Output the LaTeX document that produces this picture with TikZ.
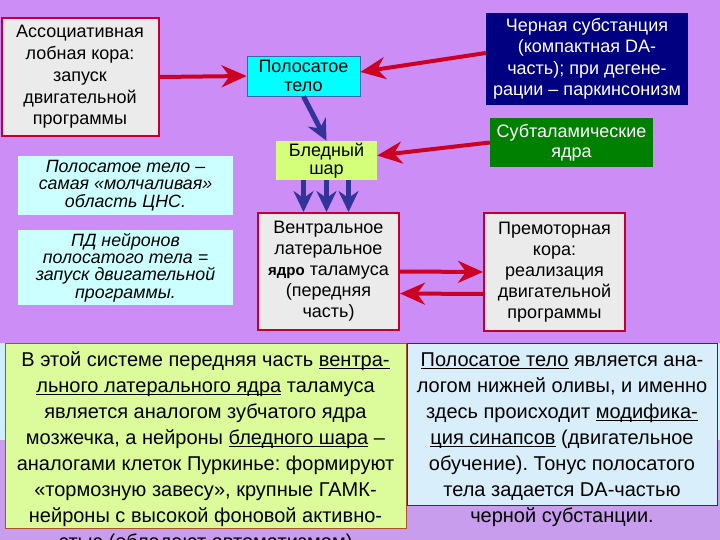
\documentclass[tikz,border=0pt]{standalone}
\usepackage{fontspec}
\setmainfont{Liberation Sans}
\usetikzlibrary{arrows.meta,positioning,calc}
\frenchspacing

\definecolor{slideBg}{HTML}{CC8EF6}
\definecolor{slideBgLow}{HTML}{C99DEE}
\definecolor{bandBlue}{HTML}{CCEEFF}
\definecolor{boxRed}{HTML}{C00030}
\definecolor{arrowRed}{HTML}{CC0022}
\definecolor{arrowBlue}{HTML}{333399}
\definecolor{boxGray}{HTML}{EBEBEB}
\definecolor{striatumCyan}{HTML}{00FFFF}
\definecolor{striatumEdge}{HTML}{3366AA}
\definecolor{nigraBlue}{HTML}{000080}
\definecolor{stnGreen}{HTML}{008000}
\definecolor{pallidumLime}{HTML}{D4FF7A}
\definecolor{noteCyan}{HTML}{CCFFFF}
\definecolor{cmpGreen}{HTML}{DCFC9C}
\definecolor{cmpGreenEdge}{HTML}{A8522D}
\definecolor{cmpBlue}{HTML}{D8EEFA}
\definecolor{cmpBlueEdge}{HTML}{801020}

% underline at a fixed depth, through the descenders
\newcommand{\lined}[1]{\leavevmode\setbox0=\hbox{#1}\copy0\kern-\wd0\rule[-2.6pt]{\wd0}{1.1pt}}

\tikzset{
  slideBox/.style={inner sep=0pt, align=center, font=\fontsize{18}{21.5}\selectfont},
  redBox/.style={slideBox, draw=boxRed, line width=2pt, fill=boxGray},
  noteBox/.style={inner sep=0pt, align=center, fill=noteCyan, minimum width=215pt,
    font=\itshape\fontsize{17.8}{17.3}\selectfont},
  cmpText/.style={inner sep=0pt, align=center, anchor=north, font=\fontsize{20}{26}\selectfont},
  redArrow/.style={draw=arrowRed, line width=4pt, -{Stealth[length=25pt,width=22pt,inset=8pt]}},
  blueArrow/.style={draw=arrowBlue, line width=5pt, -{Stealth[length=21pt,width=20pt,inset=7pt]}}
}

\begin{document}
\begin{tikzpicture}[x=1pt,y=-1pt]
    \useasboundingbox (0,0) rectangle (720,540);
    \clip (0,0) rectangle (720,540);

    % Background
    \fill[slideBgLow] (0,0) rectangle (720,540);
    \fill[slideBg] (0,0) rectangle (720,343);
    \fill[bandBlue] (0,343) rectangle (720,440);

    % Boxes of the loop
    \node[redBox, minimum width=157pt, minimum height=118pt, font=\fontsize{18}{21.75}\selectfont] (assocCortex) at (80,77)
        {Ассоциативная\\лобная кора:\\запуск\\двигательной\\программы};
    \node[slideBox, fill=striatumCyan, draw=striatumEdge, line width=0.8pt,
        minimum width=113pt, minimum height=40pt, font=\fontsize{18}{18.7}\selectfont] (striatum) at (303.5,76)
        {Полосатое\\тело};
    \node[slideBox, fill=nigraBlue, text=white, minimum width=202pt, minimum height=92pt] (nigra) at (587,59)
        {Черная субстанция\\(компактная DA-\\часть); при дегене-\\рации – паркинсонизм};
    \node[slideBox, fill=stnGreen, text=white, minimum width=163pt, minimum height=49pt,
        font=\fontsize{18}{20}\selectfont] (subthal) at (571.5,142.5)
        {Субталамические\\ядра};
    \node[slideBox, fill=pallidumLime, minimum width=101pt, minimum height=39pt,
        font=\fontsize{18}{18}\selectfont] (pallidum) at (326.5,160.5)
        {Бледный\\шар};
    \node[redBox, minimum width=141pt, minimum height=117pt, font=\fontsize{18}{21}\selectfont] (thalamus) at (328.5,271.5)
        {Вентральное\\латеральное\\{\bfseries\fontsize{15}{21}\selectfont ядро} таламуса\\(передняя\\часть)};
    \node[redBox, minimum width=141pt, minimum height=118pt, font=\fontsize{18}{21}\selectfont] (premotor) at (554.5,272)
        {Премоторная\\кора:\\реализация\\двигательной\\программы};

    % Notes
    \node[noteBox, minimum height=59pt] (noteSilent) at (125.5,185.5)
        {Полосатое тело –\\самая «молчаливая»\\область ЦНС.};
    \node[noteBox, minimum height=75pt] (noteSpikes) at (125.5,267.5)
        {ПД нейронов\\полосатого тела =\\запуск двигательной\\программы.};

    % Arrows
    \draw[redArrow] (assocCortex.east) -- (striatum.west);
    \draw[redArrow] ([yshift=6pt]nigra.west) -- ([yshift=4pt]striatum.east);
    \draw[blueArrow] (striatum.south) -- (pallidum.north);
    \draw[redArrow] (subthal.west) -- ([yshift=5pt]pallidum.east);
    \foreach \dx in {-23,0,22}
        \draw[blueArrow] ([xshift=\dx pt]pallidum.south) -- ([xshift=\dx pt]pallidum.south |- thalamus.north);
    \draw[redArrow] (thalamus.east) -- (premotor.west);
    \draw[redArrow] ([yshift=-22pt]premotor.west) -- ([yshift=-22pt]thalamus.east);

    % Comparison with the cerebellum
    \node[draw=cmpGreenEdge, fill=cmpGreen, line width=1pt, minimum width=401pt, minimum height=185pt] (cmpLeft) at (205.5,435.5) {};
    \node[draw=cmpBlueEdge, fill=cmpBlue, line width=1pt, minimum width=310pt, minimum height=162pt] (cmpRight) at (562,424) {};
    \node[cmpText] (cmpLeftText) at (205.5,351.5)
        {В этой системе передняя часть \lined{вентра-}\\
         \lined{льного латерального ядра} таламуса\\
         является аналогом зубчатого ядра\\
         мозжечка, а нейроны \lined{бледного шара} –\\
         аналогами клеток Пуркинье: формируют\\
         «тормозную завесу», крупные ГАМК-\\
         нейроны с высокой фоновой активно-\\
         стью (обладают автоматизмом)};
    \node[cmpText] (cmpRightText) at (562,352.5)
        {\lined{Полосатое тело} является ана-\\
         логом нижней оливы, и именно\\
         здесь происходит \lined{модифика-}\\
         \lined{ция синапсов} (двигательное\\
         обучение). Тонус полосатого\\
         тела задается DA-частью\\
         черной субстанции.};
\end{tikzpicture}
\end{document}
